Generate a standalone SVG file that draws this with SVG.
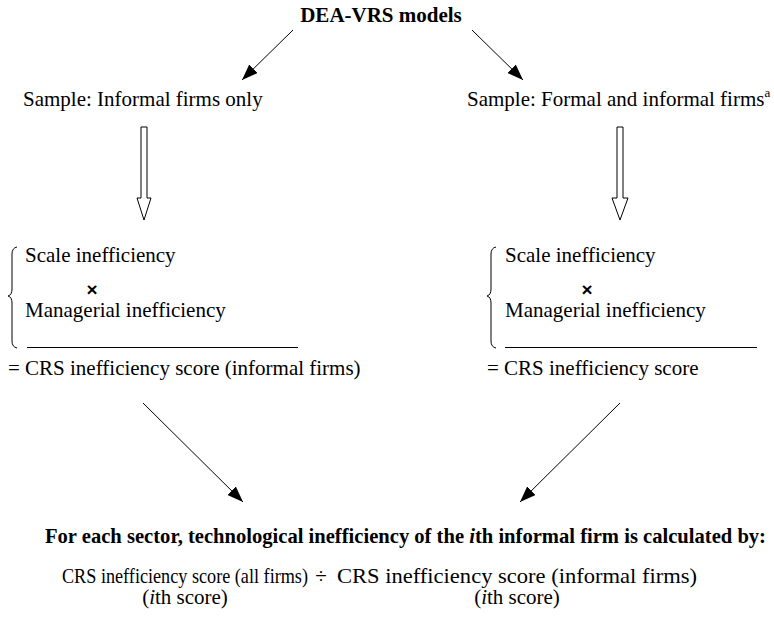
<svg xmlns="http://www.w3.org/2000/svg" width="774" height="620" viewBox="0 0 774 620">
<style>
  .t { font-family: "Liberation Serif", "Times New Roman", serif; font-size: 21px; fill: #000; }
  .b { font-weight: bold; }
  .x { font-family: "Liberation Sans", Arial, sans-serif; font-size: 19px; font-weight: bold; fill: #000; }
  .ln { stroke: #000; stroke-width: 1; fill: none; }
  .hollow { stroke: #000; stroke-width: 1; fill: #fff; }
</style>
<defs>
  <marker id="ah" markerWidth="16" markerHeight="12" refX="16" refY="6" orient="auto" markerUnits="userSpaceOnUse">
    <path d="M0,0 L16,6 L0,12 Z" fill="#000"/>
  </marker>
</defs>
<rect width="774" height="620" fill="#fff"/>

<g id="title">
  <text class="t b" x="381" y="22" text-anchor="middle">DEA-VRS models</text>
</g>

<g id="sample-informal">
  <text class="t" x="23" y="106">Sample: Informal firms only</text>
</g>

<g id="sample-all">
  <text class="t" x="467" y="106">Sample: Formal and informal firms<tspan font-size="13" dy="-9">a</tspan></text>
</g>

<g id="decomp-informal">
  <path class="ln" d="M17,247 Q12,248 12,254 L12,289 Q12,295 8,296 Q12,297 12,303 L12,341 Q12,347 17,348"/>
  <text class="t" x="25" y="262">Scale inefficiency</text>
  <text class="x" x="92" y="296" text-anchor="middle">×</text>
  <text class="t" x="25" y="317">Managerial inefficiency</text>
  <line class="ln" x1="27" y1="347.5" x2="298" y2="347.5"/>
</g>

<g id="decomp-all">
  <path class="ln" d="M496,247 Q491,248 491,254 L491,289 Q491,295 487,296 Q491,297 491,303 L491,341 Q491,347 496,348"/>
  <text class="t" x="505" y="262">Scale inefficiency</text>
  <text class="x" x="587" y="296" text-anchor="middle">×</text>
  <text class="t" x="505" y="317">Managerial inefficiency</text>
  <line class="ln" x1="505" y1="347.5" x2="757" y2="347.5"/>
</g>

<g id="crs-informal">
  <text class="t" x="8" y="375">= CRS inefficiency score (informal firms)</text>
</g>

<g id="crs-all">
  <text class="t" x="487" y="375">= CRS inefficiency score</text>
</g>

<g id="result">
  <text class="t b" x="45" y="543" textLength="721" lengthAdjust="spacingAndGlyphs">For each sector, technological inefficiency of the <tspan font-style="italic">i</tspan>th informal firm is calculated by:</text>
  <text class="t" x="62" y="583" font-size="19" textLength="246" lengthAdjust="spacingAndGlyphs">CRS inefficiency score (all firms)</text>
  <text class="t" x="321" y="583" text-anchor="middle">÷</text>
  <text class="t" x="337" y="583" textLength="360" lengthAdjust="spacingAndGlyphs">CRS inefficiency score (informal firms)</text>
  <text class="t" x="185" y="604" text-anchor="middle">(<tspan font-style="italic">i</tspan>th score)</text>
  <text class="t" x="517" y="604" text-anchor="middle">(<tspan font-style="italic">i</tspan>th score)</text>
</g>

<g id="connectors">
  <line class="ln" x1="293" y1="30" x2="242" y2="80" marker-end="url(#ah)"/>
  <line class="ln" x1="472" y1="30" x2="523" y2="80" marker-end="url(#ah)"/>
  <path class="hollow" d="M141,127 L147,127 L147,198 L151,198 L144,220 L137,198 L141,198 Z"/>
  <path class="hollow" d="M617,127 L623,127 L623,198 L628,198 L620,220 L612,198 L617,198 Z"/>
  <line class="ln" x1="143" y1="403" x2="243" y2="502" marker-end="url(#ah)"/>
  <line class="ln" x1="620" y1="403" x2="520" y2="502" marker-end="url(#ah)"/>
</g>
</svg>
